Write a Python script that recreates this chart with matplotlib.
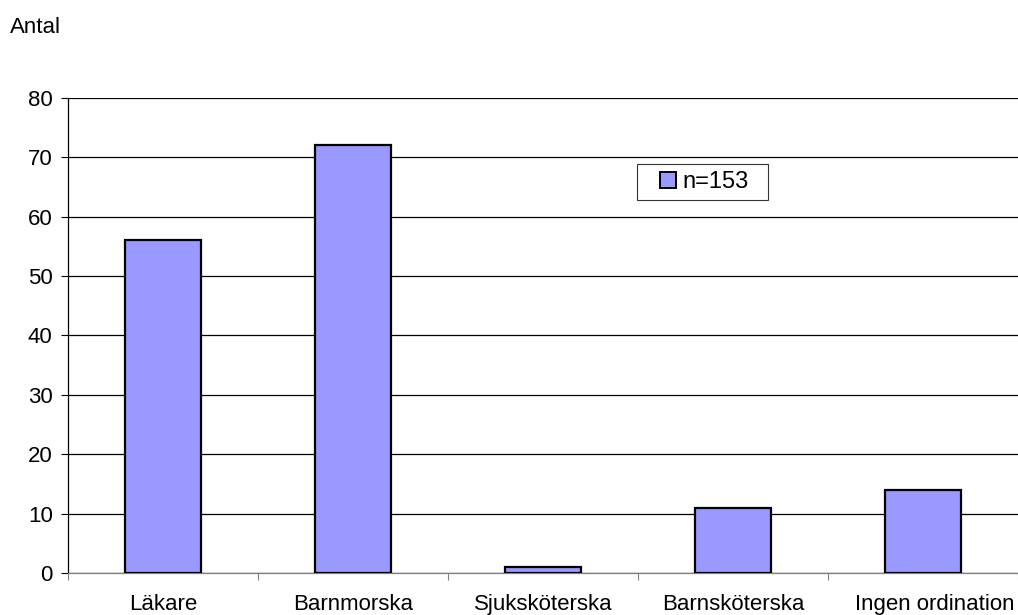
import numpy as np
import matplotlib.pyplot as plt
from matplotlib.path import Path
from matplotlib.transforms import ScaledTranslation

plt.rcParams['font.family'] = ['Liberation Sans', 'DejaVu Sans']

yrken = ["Läkare", "Barnmorska", "Sjuksköterska", "Barnsköterska", "Ingen ordination"]
antal = [56, 72, 1, 11, 14]
serie_namn = "n=153"

fs = 16


def bred_ram(x0, y0, width, height, mutation_size):
    # legend frame with extra room to the left and right (pixels)
    vx, hx = 16, 12
    return Path([(x0 - vx, y0), (x0 + width + hx, y0),
                 (x0 + width + hx, y0 + height), (x0 - vx, y0 + height),
                 (x0 - vx, y0)], closed=True)


fig = plt.figure(figsize=(10.18, 6.15), dpi=100)
ax = fig.add_axes([0.0668, 0.0683, 0.9332, 0.7724])

x = np.arange(len(yrken))
ax.bar(x, antal, width=0.405, color="#9999FF", edgecolor="black",
       linewidth=1.6, label=serie_namn, zorder=3)

ax.set_xlim(-0.5, len(yrken) - 0.5)
ax.set_ylim(0, 80)
ax.set_yticks(np.arange(0, 81, 10))
ax.yaxis.grid(True, color="black", linewidth=0.9, zorder=0)

# ticks on the category boundaries, labels centred under the bars
ax.set_xticks(np.arange(-0.5, len(yrken)), minor=False)
ax.set_xticklabels([])
ax.set_xticks(x, minor=True)
ax.set_xticklabels(yrken, minor=True, fontsize=fs)
ax.tick_params(axis="x", which="minor", length=0, pad=15)
ax.tick_params(axis="x", which="major", length=5, color="#808080", width=0.8)
ax.tick_params(axis="y", length=5, width=0.8, labelsize=fs, pad=6)

# last label sits a bit to the right, against the edge
sista = ax.get_xticklabels(minor=True)[-1]
sista.set_transform(sista.get_transform() + ScaledTranslation(0.12, 0, fig.dpi_scale_trans))

for s in ["top", "right"]:
    ax.spines[s].set_visible(False)
ax.spines["left"].set_color("black")
ax.spines["left"].set_linewidth(0.9)
ax.spines["bottom"].set_color("#808080")
ax.spines["bottom"].set_linewidth(0.9)

leg = ax.legend(loc="upper left", bbox_to_anchor=(0.616, 0.861), fontsize=17,
                frameon=True, fancybox=False, handlelength=0.68, handleheight=0.68,
                handletextpad=0.25, borderpad=0.3, borderaxespad=0)
leg.get_frame().set_edgecolor("black")
leg.get_frame().set_linewidth(0.8)
leg.get_frame().set_boxstyle(bred_ram)
for h in leg.legend_handles:
    h.set_linewidth(1.4)

fig.text(0.0098, 0.955, "Antal", fontsize=fs, va="center", ha="left")

plt.savefig("out.png", dpi=100)
